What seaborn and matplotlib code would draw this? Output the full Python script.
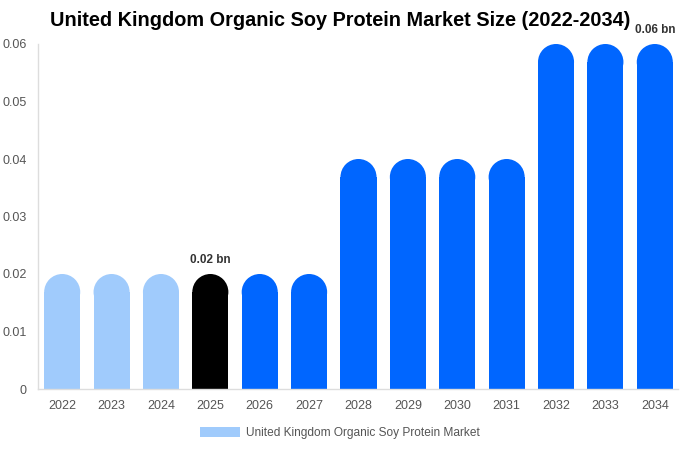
import numpy as np
import pandas as pd
import matplotlib
matplotlib.use("Agg")
import matplotlib.pyplot as plt
import seaborn as sns
from matplotlib.patches import Rectangle, Ellipse, Patch

years = ["2022", "2023", "2024", "2025", "2026", "2027", "2028",
         "2029", "2030", "2031", "2032", "2033", "2034"]
values = [0.02, 0.02, 0.02, 0.02, 0.02, 0.02, 0.04,
          0.04, 0.04, 0.04, 0.06, 0.06, 0.06]
bar_colors = ["#a0cbfc"] * 3 + ["#000000"] + ["#0066ff"] * 9
labelled = {"2025": "0.02 bn", "2034": "0.06 bn"}

df = pd.DataFrame({"year": years, "value": values})

sns.set_style("white")
plt.rcParams["font.family"] = ["Liberation Sans", "DejaVu Sans"]

fig = plt.figure(figsize=(6.8, 4.5), dpi=100)
ax = fig.add_axes([38 / 680, 1 - 389 / 450, 640 / 680, 345 / 450])

sns.barplot(data=df, x="year", y="value", hue="year", palette=bar_colors,
            legend=False, width=0.73, ax=ax, saturation=1)

ax.set_xlim(-0.49, 12.47)
ax.set_ylim(0, 0.06)
fig.canvas.draw()

# px per data unit
ppx = ax.transData.transform((1, 0))[0] - ax.transData.transform((0, 0))[0]
ppy = ax.transData.transform((0, 1))[1] - ax.transData.transform((0, 0))[1]

# swap the square bars for bars with a round cap
for p in list(ax.patches):
    x0, w, h = p.get_x(), p.get_width(), p.get_height()
    col = p.get_facecolor()
    p.set_visible(False)
    ry = (w * ppx / 2) / ppy
    ax.add_patch(Rectangle((x0, 0), w, h - ry, facecolor=col, edgecolor="none"))
    ax.add_patch(Ellipse((x0 + w / 2, h - ry), w, 2 * ry, facecolor=col, edgecolor="none"))

for i, (yr, v) in enumerate(zip(years, values)):
    if yr in labelled:
        ax.annotate(labelled[yr], (i, v), xytext=(0, 6), textcoords="offset points",
                    ha="center", va="bottom", fontsize=8.5, fontweight="bold", color="#333333")

ax.set_yticks([0, 0.01, 0.02, 0.03, 0.04, 0.05, 0.06])
ax.set_yticklabels(["0", "0.01", "0.02", "0.03", "0.04", "0.05", "0.06"])
ax.tick_params(axis="both", labelsize=9, colors="#555555", length=0, pad=8)
ax.set_xlabel("")
ax.set_ylabel("")
for s in ["top", "right"]:
    ax.spines[s].set_visible(False)
for s in ["left", "bottom"]:
    ax.spines[s].set_color("#dddddd")
    ax.spines[s].set_linewidth(1)

fig.text(340 / 680, 1 - 21 / 450, "United Kingdom Organic Soy Protein Market Size (2022-2034)",
         ha="center", va="center", fontsize=14.3, fontweight="bold", color="#000000")

handle = Patch(facecolor="#a0cbfc", edgecolor="none")
fig.legend([handle], ["United Kingdom Organic Soy Protein Market"], loc="center",
           bbox_to_anchor=(0.5, 1 - 433 / 450), frameon=False, fontsize=8.6,
           labelcolor="#555555", handlelength=3.35, handleheight=1.0, handletextpad=0.5)

fig.savefig("out.png", dpi=100)
